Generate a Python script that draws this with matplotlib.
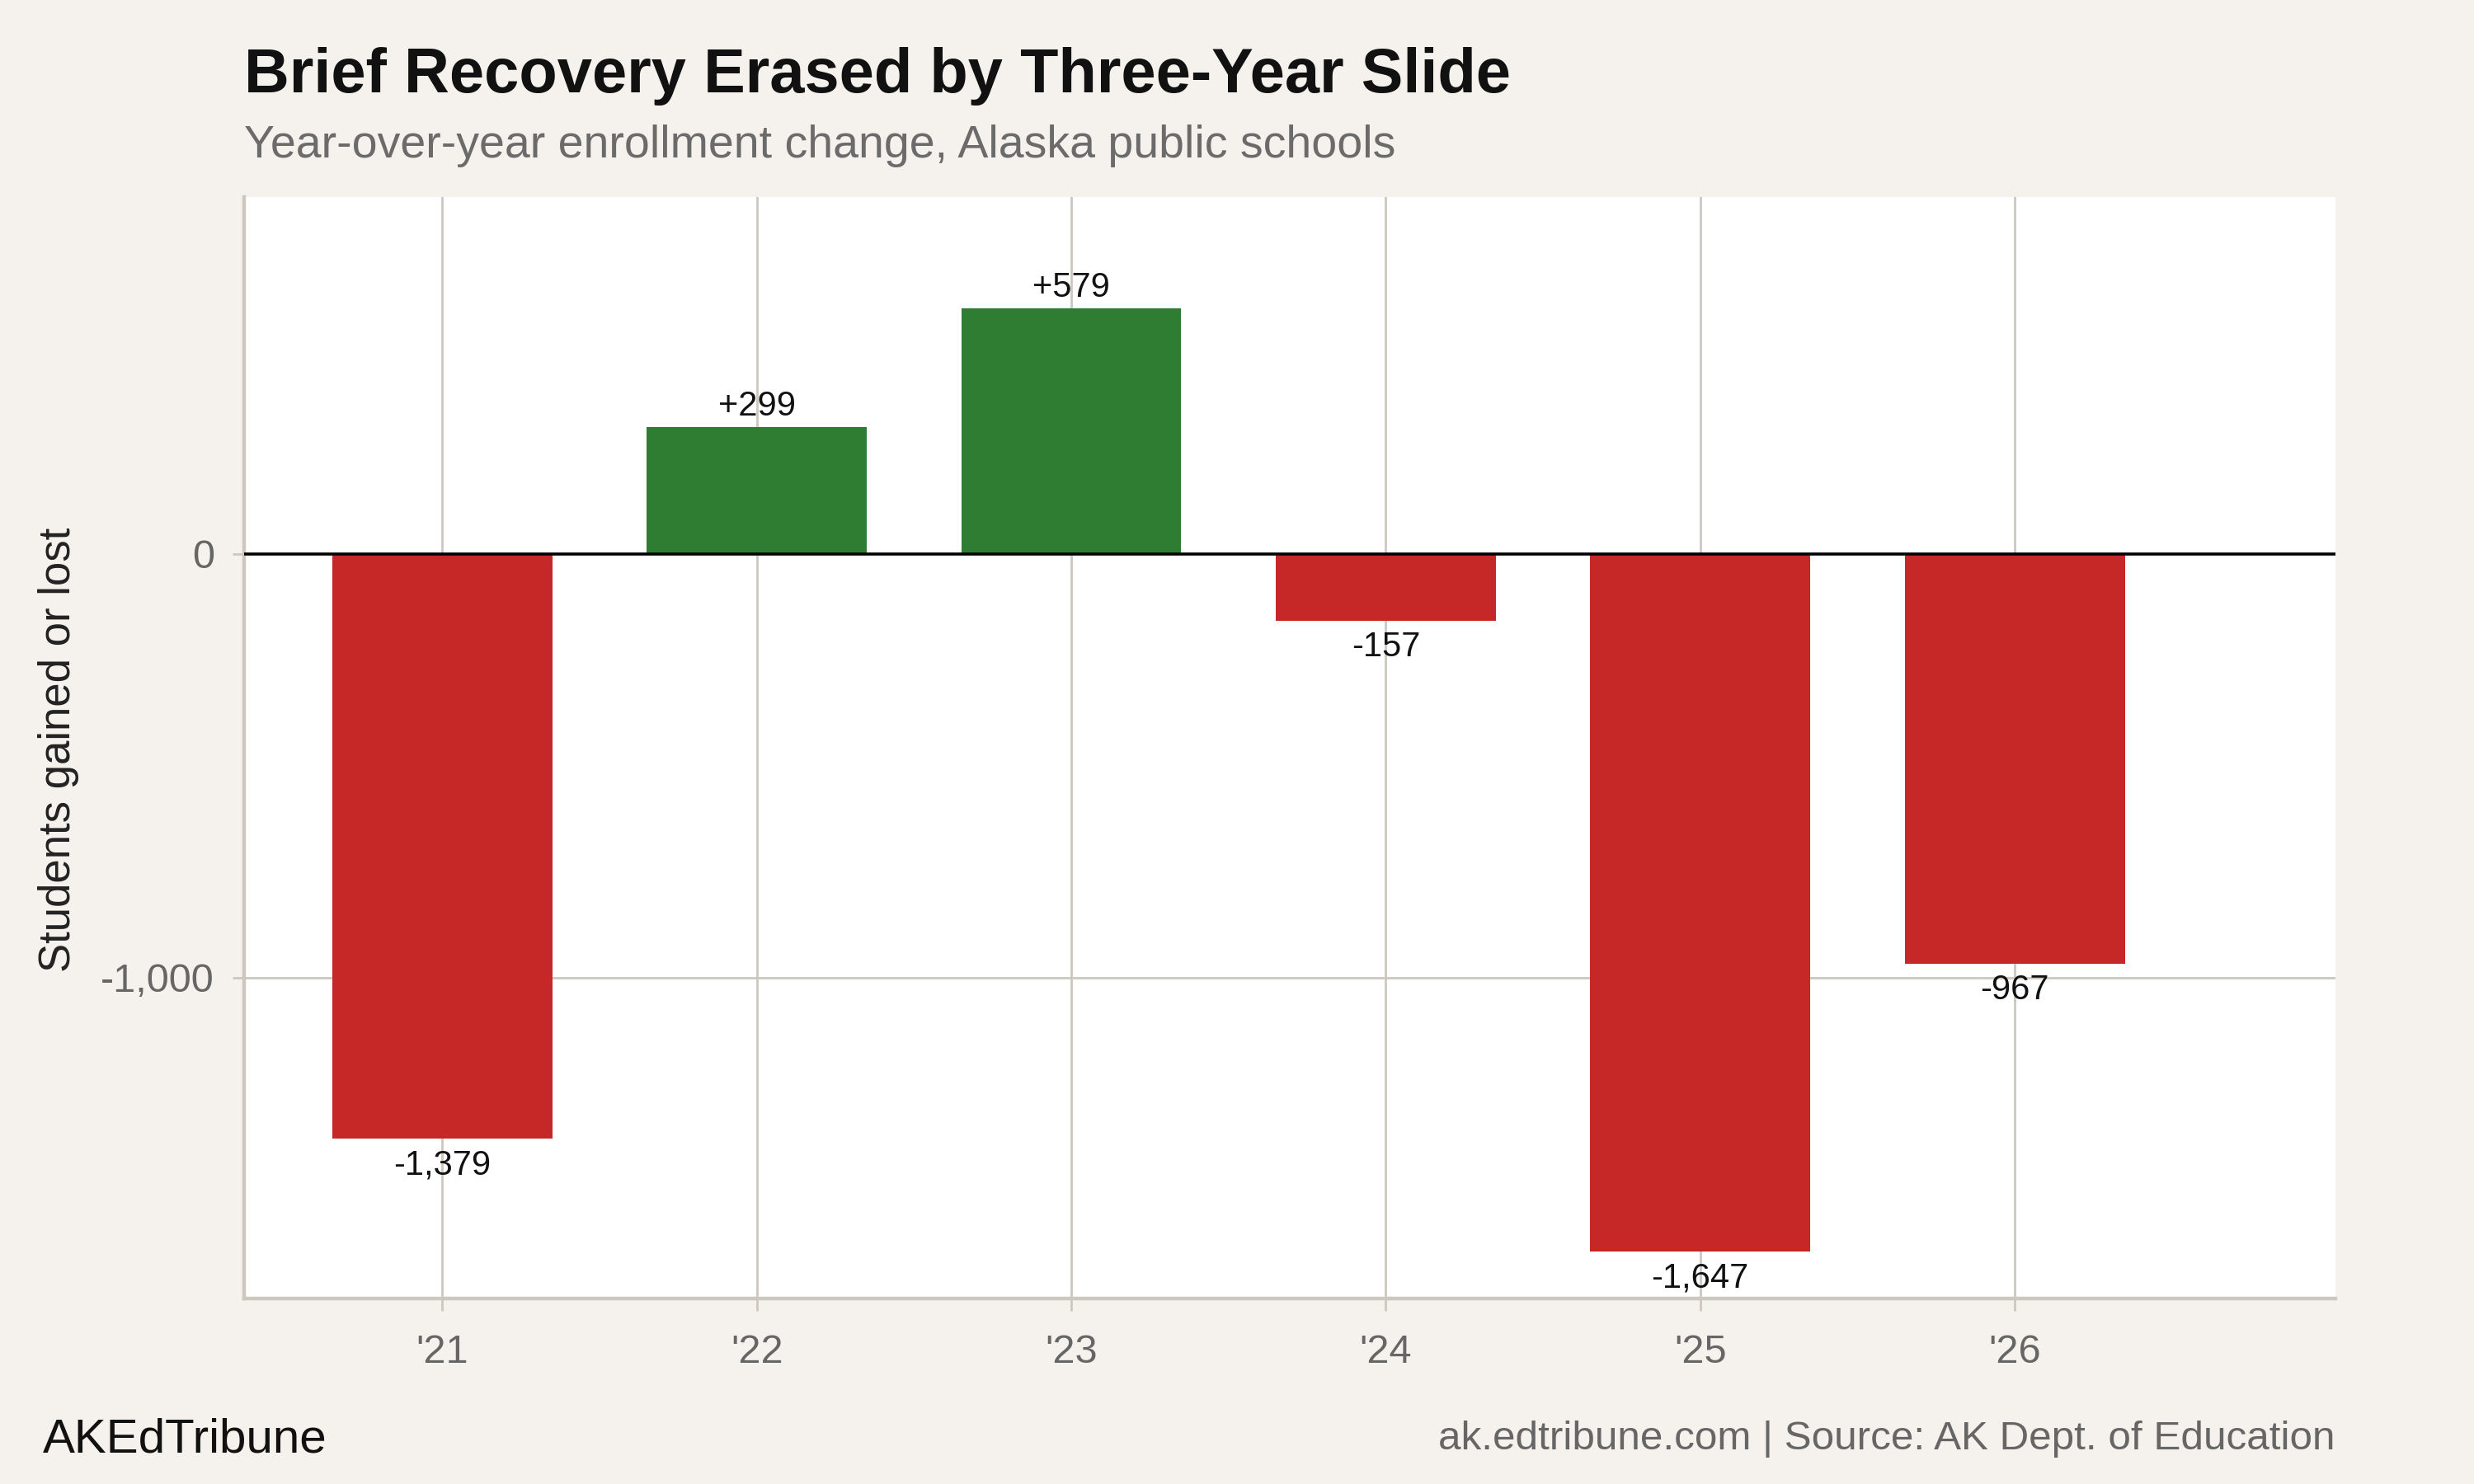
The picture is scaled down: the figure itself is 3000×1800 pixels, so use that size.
import matplotlib
matplotlib.use("Agg")
import matplotlib.pyplot as plt

plt.rcParams['font.family'] = ['Liberation Sans', 'DejaVu Sans']

years = ["'21", "'22", "'23", "'24", "'25", "'26"]
changes = [-1379, 299, 579, -157, -1647, -967]
yticks = [0, -1000]
ytick_labels = ["0", "-1,000"]

BG = "#F5F2ED"
RED = "#C62828"
GREEN = "#2E7D32"
GRID = "#CCC8C0"

fig = plt.figure(figsize=(15, 9), dpi=200, facecolor=BG)
ax = fig.add_axes([0.0987, 0.125, 0.8453, 0.7422])
ax.set_facecolor("white")

x = list(range(len(years)))
colors = [GREEN if v > 0 else RED for v in changes]
ax.bar(x, changes, width=0.70, color=colors, zorder=3)

for xi, v in zip(x, changes):
    label = f"+{v:,}" if v > 0 else f"{v:,}"
    if v > 0:
        ax.annotate(label, (xi, v), xytext=(0, 2), textcoords="offset points",
                    ha="center", va="bottom", fontsize=15, color="#111111", zorder=4)
    else:
        ax.annotate(label, (xi, v), xytext=(0, -4.5), textcoords="offset points",
                    ha="center", va="top", fontsize=15, color="#111111", zorder=4)

ax.axhline(0, color="black", linewidth=1.3, zorder=4)

ax.set_xlim(-0.63, 6.02)
ax.set_ylim(-1757, 842)
ax.set_xticks(x)
ax.set_xticklabels(years)
ax.set_yticks(yticks)
ax.set_yticklabels(ytick_labels)

ax.grid(True, color=GRID, linewidth=1.0, zorder=0)
ax.set_axisbelow(True)

for s in ["top", "right"]:
    ax.spines[s].set_visible(False)
for s in ["left", "bottom"]:
    ax.spines[s].set_color(GRID)
    ax.spines[s].set_linewidth(1.6)

ax.tick_params(axis="x", length=5.5, width=1.0, color=GRID, labelsize=17.5,
               labelcolor="#666666", pad=10)
ax.tick_params(axis="y", length=5, width=1.0, color=GRID, labelsize=17.5,
               labelcolor="#666666", pad=8)

fig.text(71 / 3000, 1 - 909 / 1800, "Students gained or lost", fontsize=19,
         color="#222222", rotation=90, ha="center", va="center")

fig.text(296 / 3000, 1 - 112 / 1800, "Brief Recovery Erased by Three-Year Slide",
         fontsize=27.3, fontweight="bold", color="#111111", ha="left", va="baseline")
fig.text(296 / 3000, 1 - 191 / 1800, "Year-over-year enrollment change, Alaska public schools",
         fontsize=20, color="#6b6b6b", ha="left", va="baseline")

fig.text(52 / 3000, 1 - 1747 / 1800, "AKEdTribune", fontsize=21, color="#111111",
         ha="left", va="center")
fig.text(2832 / 3000, 1 - 1745 / 1800, "ak.edtribune.com | Source: AK Dept. of Education",
         fontsize=17.8, color="#666666", ha="right", va="center")

fig.savefig("out.png", dpi=200, facecolor=BG)
